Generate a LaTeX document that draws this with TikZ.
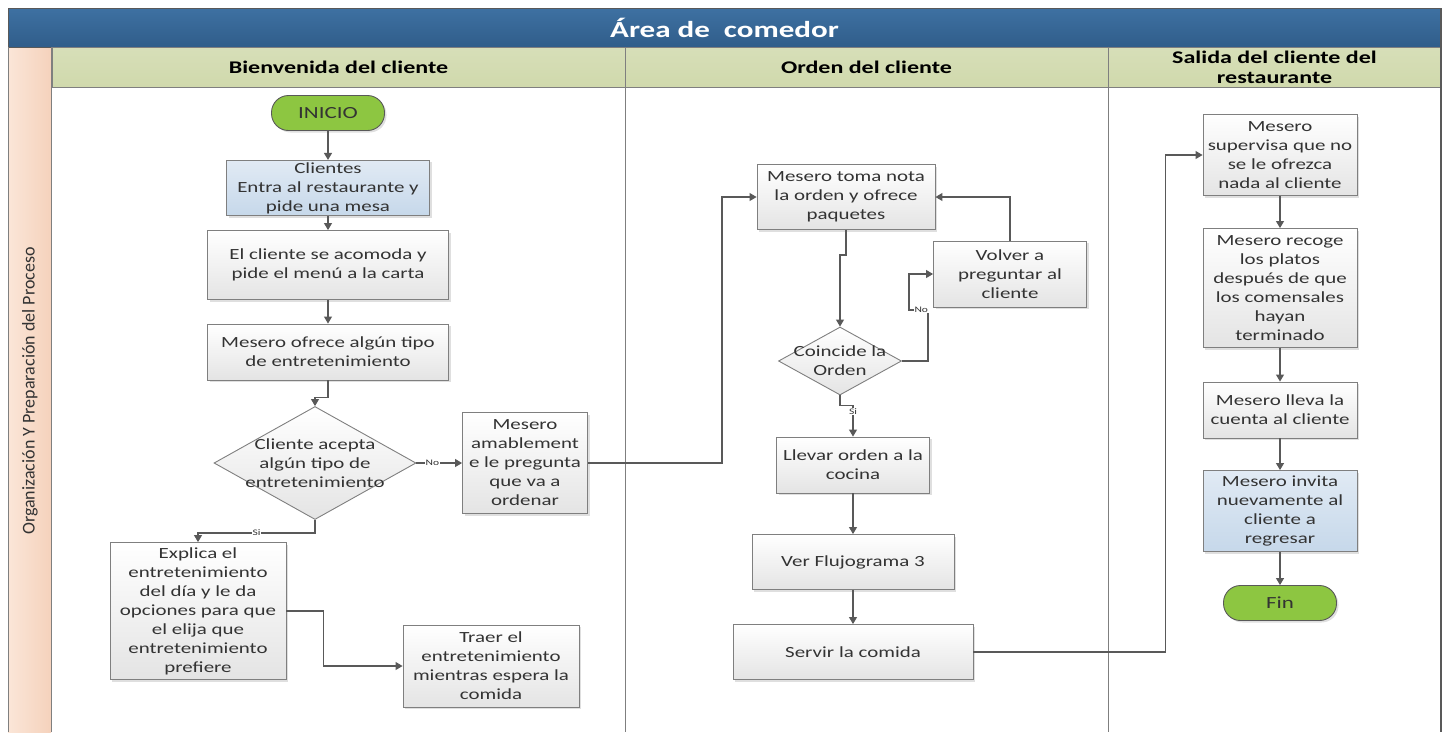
\documentclass[tikz,border=0pt]{standalone}
\usepackage{fontspec}
\setmainfont{Carlito}[FakeStretch=1.35]
\newfontfamily\bandafont{Carlito}
\usetikzlibrary{positioning}
\usetikzlibrary{arrows.meta}
\usetikzlibrary{shapes.geometric,shadows}

\definecolor{tituloarriba}{HTML}{3E71A2}
\definecolor{tituloabajo}{HTML}{305D8A}
\definecolor{encab}{HTML}{D0D9AC}
\definecolor{bandaclara}{HTML}{FBE6D8}
\definecolor{banda}{HTML}{F5D2BC}
\definecolor{verde}{HTML}{8DC641}
\definecolor{azulclaro}{HTML}{E1EAF4}
\definecolor{azulcaja}{HTML}{C6D8EA}
\definecolor{fondocaja}{HTML}{E4E4E4}
\definecolor{bordegris}{HTML}{7F7F7F}
\definecolor{linea}{HTML}{595959}
\definecolor{textogris}{HTML}{333333}

\newcommand*{\cajafont}{\fontsize{15.5}{19}\selectfont}

\tikzset{
  caja/.style={draw=bordegris, line width=0.9pt, top color=white, bottom color=fondocaja,
    drop shadow={shadow xshift=2pt, shadow yshift=-2pt, opacity=0.25},
    text=textogris, align=center, font=\cajafont, inner sep=2pt},
  cajaazul/.style={caja, top color=azulclaro, bottom color=azulcaja},
  terminal/.style={draw=linea, line width=0.9pt, fill=verde, rounded corners=17pt,
    minimum width=113, minimum height=35, text=textogris, font=\fontsize{17}{19}\selectfont,
    drop shadow={shadow xshift=2pt, shadow yshift=-2pt, opacity=0.25}},
  decision/.style={diamond, draw=bordegris, line width=0.9pt, top color=white,
    bottom color=fondocaja, inner sep=0pt},
  textodecision/.style={align=center, font=\cajafont, text=textogris},
  flecha/.style={draw=linea, line width=1.1pt, -{Triangle[length=7pt,width=8pt]}},
  etiq/.style={fill=white, inner sep=0.5pt, text=textogris, font=\fontsize{8.5}{9}\selectfont},
  encabezado/.style={draw=bordegris, line width=0.8pt, top color=encab!85!white,
    bottom color=encab, align=center, inner ysep=0pt, font=\bfseries\fontsize{17.8}{20}\selectfont},
  carril/.style={draw=bordegris, line width=1pt}
}

\begin{document}
\begin{tikzpicture}[x=1pt,y=-1pt]
\useasboundingbox (0,0) rectangle (1449,732);

% lanes
\fill[left color=bandaclara, right color=banda] (8,47) rectangle (51,732);
\node[draw=linea, line width=0.8pt, top color=tituloarriba, bottom color=tituloabajo,
    minimum width=1433, minimum height=39, text=white,
    font=\bfseries\fontsize{23}{26}\selectfont] (titulo) at (724.5,27.5) {Área de\ \ comedor};
\node[encabezado, minimum width=573, minimum height=40] (hbienvenida) at (338.5,67) {Bienvenida del cliente};
\node[encabezado, minimum width=483, minimum height=40] (horden) at (866.5,67) {Orden del cliente};
\node[encabezado, minimum width=333, minimum height=40] (hsalida) at (1274.5,67) {Salida del cliente del\\restaurante};
\draw[carril] (8,47) -- (8,732);
\draw[carril] (51,47) -- (51,732);
\draw[carril] (625,47) -- (625,732);
\draw[carril] (1108,47) -- (1108,732);
\draw[draw=linea, line width=2.5pt] (1441,8) -- (1441,732);
\node[rotate=90, text=textogris, font=\bandafont\fontsize{18}{20}\selectfont] (proceso) at (30,391)
    {Organización Y Preparación del Proceso};

% Bienvenida del cliente
\node[terminal] (inicio) at (328,113) {INICIO};
\node[cajaazul, minimum width=203, minimum height=55] (clientes) at (328,188)
    {Clientes\\Entra al restaurante y\\pide una mesa};
\node[caja, minimum width=241, minimum height=69] (acomoda) at (328,265)
    {El cliente se acomoda y\\pide el menú a la carta};
\node[caja, minimum width=241, minimum height=56] (ofrece) at (328,352)
    {Mesero ofrece algún tipo\\de entretenimiento};
\node[decision, minimum width=202, minimum height=113,
    label={[textodecision]center:{Cliente acepta\\algún tipo de\\entretenimiento}}] (acepta) at (315,463) {};
\node[caja, minimum width=125, minimum height=101] (amable) at (525,463)
    {Mesero\\amablement\\e le pregunta\\que va a\\ordenar};
\node[caja, minimum width=176, minimum height=137] (explica) at (198,611)
    {Explica el\\entretenimiento\\del día y le da\\opciones para que\\el elija que\\entretenimiento\\prefiere};
\node[caja, minimum width=176, minimum height=82] (traer) at (491,666)
    {Traer el\\entretenimiento\\mientras espera la\\comida};

% Orden del cliente
\node[caja, minimum width=178, minimum height=65] (toma) at (846,197)
    {Mesero toma nota\\la orden y ofrece\\paquetes};
\node[caja, minimum width=153, minimum height=66] (volver) at (1010,274)
    {Volver a\\preguntar al\\cliente};
\node[decision, minimum width=123, minimum height=68,
    label={[textodecision]center:{Coincide la\\Orden}}] (coincide) at (840,361) {};
\node[caja, minimum width=153, minimum height=56] (llevar) at (853,465)
    {Llevar orden a la\\cocina};
\node[caja, minimum width=202, minimum height=55] (ver) at (853,562) {Ver Flujograma 3};
\node[caja, minimum width=240, minimum height=55] (servir) at (853,652) {Servir la comida};

% Salida del cliente
\node[caja, minimum width=154, minimum height=81] (supervisa) at (1280,155)
    {Mesero\\supervisa que no\\se le ofrezca\\nada al cliente};
\node[caja, minimum width=154, minimum height=119] (recoge) at (1280,288)
    {Mesero recoge\\los platos\\después de que\\los comensales\\hayan\\terminado};
\node[caja, minimum width=154, minimum height=56] (lleva) at (1280,410)
    {Mesero lleva la\\cuenta al cliente};
\node[cajaazul, minimum width=154, minimum height=81] (invita) at (1280,511)
    {Mesero invita\\nuevamente al\\cliente a\\regresar};
\node[terminal] (fin) at (1280,603) {Fin};

% Arrows
\draw[flecha] (inicio) -- (clientes);
\draw[flecha] (clientes) -- (acomoda);
\draw[flecha] (acomoda) -- (ofrece);
\draw[flecha] (ofrece.south) -- ++(0,17) -| (acepta.north);
\draw[flecha] (acepta.east) -- (amable.west) node[etiq,pos=0.35]{No};
\draw[flecha] (acepta.south) -- ++(0,13) -| (explica.north) node[etiq,pos=0.25]{Si};
\draw[flecha] (explica.east) -- ++(37,0) |- (traer.west);
\draw[flecha] (amable.east) -- ++(134,0) |- (toma.west);
\draw[flecha] (toma.south) -- ++(0,25) -| (coincide.north);
\draw[flecha] (coincide.east) -- ++(26,0) -- ++(0,-51) -- ++(-19,0) node[etiq,pos=0.35]{No}
    |- (volver.west);
\draw[flecha] (volver.north) |- (toma.east);
\draw[flecha] (coincide.south) -- ++(0,10) -| (llevar.north) node[etiq,pos=0.6]{Si};
\draw[flecha] (llevar) -- (ver);
\draw[flecha] (ver) -- (servir);
\draw[flecha] (servir.east) -- ++(192,0) |- (supervisa.west);
\draw[flecha] (supervisa) -- (recoge);
\draw[flecha] (recoge) -- (lleva);
\draw[flecha] (lleva) -- (invita);
\draw[flecha] (invita) -- (fin);

\end{tikzpicture}
\end{document}
